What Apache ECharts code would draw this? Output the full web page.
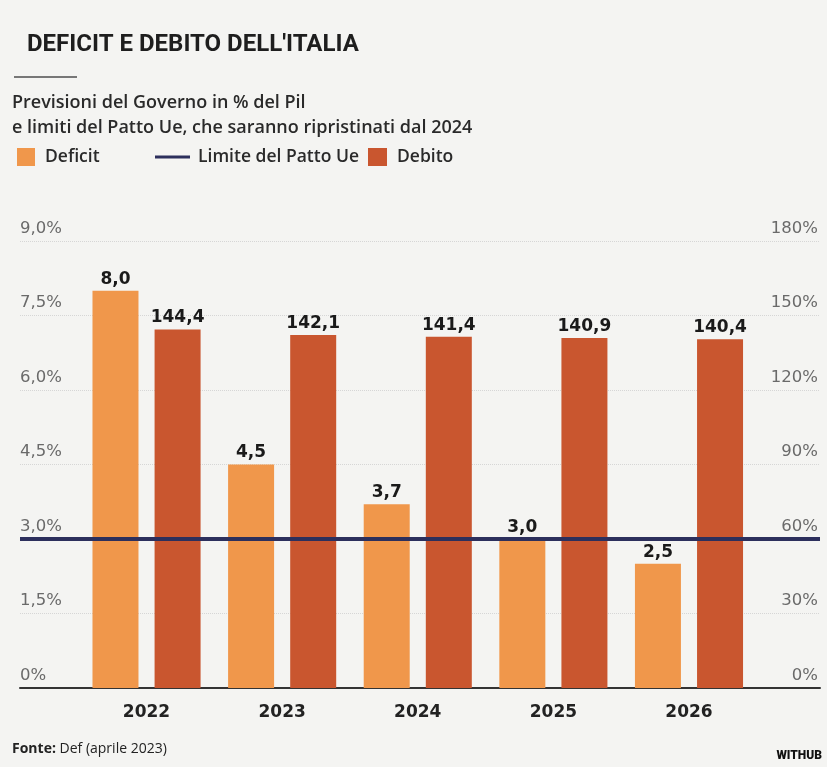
<!DOCTYPE html>
<html>
<head>
<meta charset="utf-8">
<script src="https://cdn.jsdelivr.net/npm/echarts@6/dist/echarts.min.js"></script>
<style>
  html, body { margin: 0; padding: 0; background: #F4F4F2; }
  #chart { width: 827px; height: 767px; }
</style>
</head>
<body>
<div id="chart"></div>
<script>
// ---- data ----
const YEARS = ['2022', '2023', '2024', '2025', '2026'];
const DEFICIT = [8.0, 4.5, 3.7, 3.0, 2.5];
const DEBITO = [144.4, 142.1, 141.4, 140.9, 140.4];
const LIMIT_DEFICIT = 3.0; // % del Pil (debito: 60%)
const LEFT_TICKS = { min: 0, max: 9, interval: 1.5 };
const RIGHT_TICKS = { min: 0, max: 180, interval: 30 };

const C_DEF = '#F0974B';
const C_DEB = '#C9562F';
const C_LIM = '#2C2F5C';

const fmt = v => v.toFixed(1).replace('.', ',');
const fmtAxis = v => (v === 0 ? '0' : (Number.isInteger(v) && v >= 30 ? String(v) : v.toFixed(1).replace('.', ','))) + '%';

const chart = echarts.init(document.getElementById('chart'), null, { renderer: 'canvas' });

const labelFont = { fontFamily: 'DejaVu Sans', fontWeight: 'bold', fontSize: 17, color: '#1a1a1a' };
const textFont = { fontFamily: 'Open Sans', fontWeight: 600, fontSize: 17.5, color: '#2a2a2a' };

const option = {
  backgroundColor: '#F4F4F2',
  animation: false,
  title: [
    {
      text: "DEFICIT E DEBITO DELL'ITALIA",
      left: 27, top: 33, padding: 0,
      textStyle: { fontFamily: 'Roboto', fontWeight: 'bold', fontSize: 24, color: '#1e1e1e' }
    },
    {
      text: 'Previsioni del Governo in % del Pil\ne limiti del Patto Ue, che saranno ripristinati dal 2024',
      left: 12, top: 90, padding: 0,
      textStyle: { ...textFont, fontSize: 18, lineHeight: 25 }
    },
    {
      text: '{b|Fonte:}{r| Def (aprile 2023)}',
      left: 12, top: 742, padding: 0,
      textStyle: {
        rich: {
          b: { fontFamily: 'Open Sans', fontWeight: 'bold', fontSize: 14, color: '#222' },
          r: { fontFamily: 'Open Sans', fontWeight: 'normal', fontSize: 14, color: '#222' }
        }
      }
    },
    {
      text: 'WITHUB',
      right: 5, top: 750, padding: 0,
      textStyle: { fontFamily: 'Roboto', fontWeight: 900, fontSize: 12, color: '#111' }
    }
  ],
  graphic: [
    { type: 'line', shape: { x1: 14, y1: 77, x2: 77, y2: 77 }, style: { stroke: '#777', lineWidth: 2 } }
  ],
  legend: [
    {
      left: 17, top: 148, padding: 0, data: ['Deficit'], icon: 'rect',
      itemWidth: 18, itemHeight: 18, selectedMode: false,
      textStyle: { ...textFont, padding: [0, 0, 0, 5] }
    },
    {
      left: 155, top: 148, padding: 0, data: ['Limite del Patto Ue'], icon: 'rect',
      itemWidth: 35, itemHeight: 3, selectedMode: false,
      textStyle: { ...textFont, padding: [0, 0, 0, 3] }
    },
    {
      left: 368, top: 148, padding: 0, data: ['Debito'], icon: 'rect',
      itemWidth: 19, itemHeight: 18, selectedMode: false,
      textStyle: { ...textFont, padding: [0, 0, 0, 5] }
    }
  ],
  grid: { left: 20, right: 7, top: 241, bottom: 79, containLabel: false },
  xAxis: {
    type: 'value',
    min: -0.933, max: 4.966,
    axisLine: { show: true, onZero: false, lineStyle: { color: '#333', width: 2 } },
    axisTick: { show: false },
    splitLine: { show: false },
    axisLabel: {
      customValues: YEARS.map((_, i) => i),
      formatter: v => YEARS[Math.round(v)],
      margin: 16,
      ...labelFont, fontSize: 17, color: '#222'
    }
  },
  yAxis: [
    {
      type: 'value', min: LEFT_TICKS.min, max: LEFT_TICKS.max, interval: LEFT_TICKS.interval,
      position: 'left',
      axisLine: { show: false }, axisTick: { show: false },
      splitLine: { show: true, lineStyle: { color: '#D6D6D6', type: 'dotted', width: 1 } },
      axisLabel: {
        inside: true, margin: 0, verticalAlign: 'bottom', padding: [0, 0, 4, 0],
        formatter: fmtAxis,
        fontFamily: 'DejaVu Sans', fontWeight: 'normal', fontSize: 16.5, color: '#6a6a6a'
      }
    },
    {
      type: 'value', min: RIGHT_TICKS.min, max: RIGHT_TICKS.max, interval: RIGHT_TICKS.interval,
      position: 'right',
      axisLine: { show: false }, axisTick: { show: false },
      splitLine: { show: false },
      axisLabel: {
        inside: true, margin: 2, verticalAlign: 'bottom', padding: [0, 0, 4, 0],
        formatter: fmtAxis,
        fontFamily: 'DejaVu Sans', fontWeight: 'normal', fontSize: 16.5, color: '#6a6a6a'
      }
    }
  ],
  series: [
    {
      name: 'Deficit', type: 'bar', yAxisIndex: 0,
      data: DEFICIT.map((v, i) => [i, v]),
      barWidth: 46, barGap: '35%',
      itemStyle: { color: C_DEF },
      label: { show: true, position: 'top', distance: 3, formatter: p => fmt(p.value[1]), ...labelFont }
    },
    {
      name: 'Limite del Patto Ue', type: 'line', yAxisIndex: 0, z: 5,
      data: [],
      color: C_LIM,
      lineStyle: { color: C_LIM, width: 3 },
      itemStyle: { color: C_LIM },
      markLine: {
        silent: true, symbol: 'none', label: { show: false },
        lineStyle: { color: C_LIM, width: 4, type: 'solid' },
        data: [{ yAxis: LIMIT_DEFICIT }]
      }
    },
    {
      name: 'Debito', type: 'bar', yAxisIndex: 1,
      data: DEBITO.map((v, i) => [i, v]),
      barWidth: 46, barGap: '35%',
      itemStyle: { color: C_DEB },
      label: { show: true, position: 'top', distance: 3, formatter: p => fmt(p.value[1]), ...labelFont }
    }
  ]
};

chart.setOption(option);
</script>
</body>
</html>
